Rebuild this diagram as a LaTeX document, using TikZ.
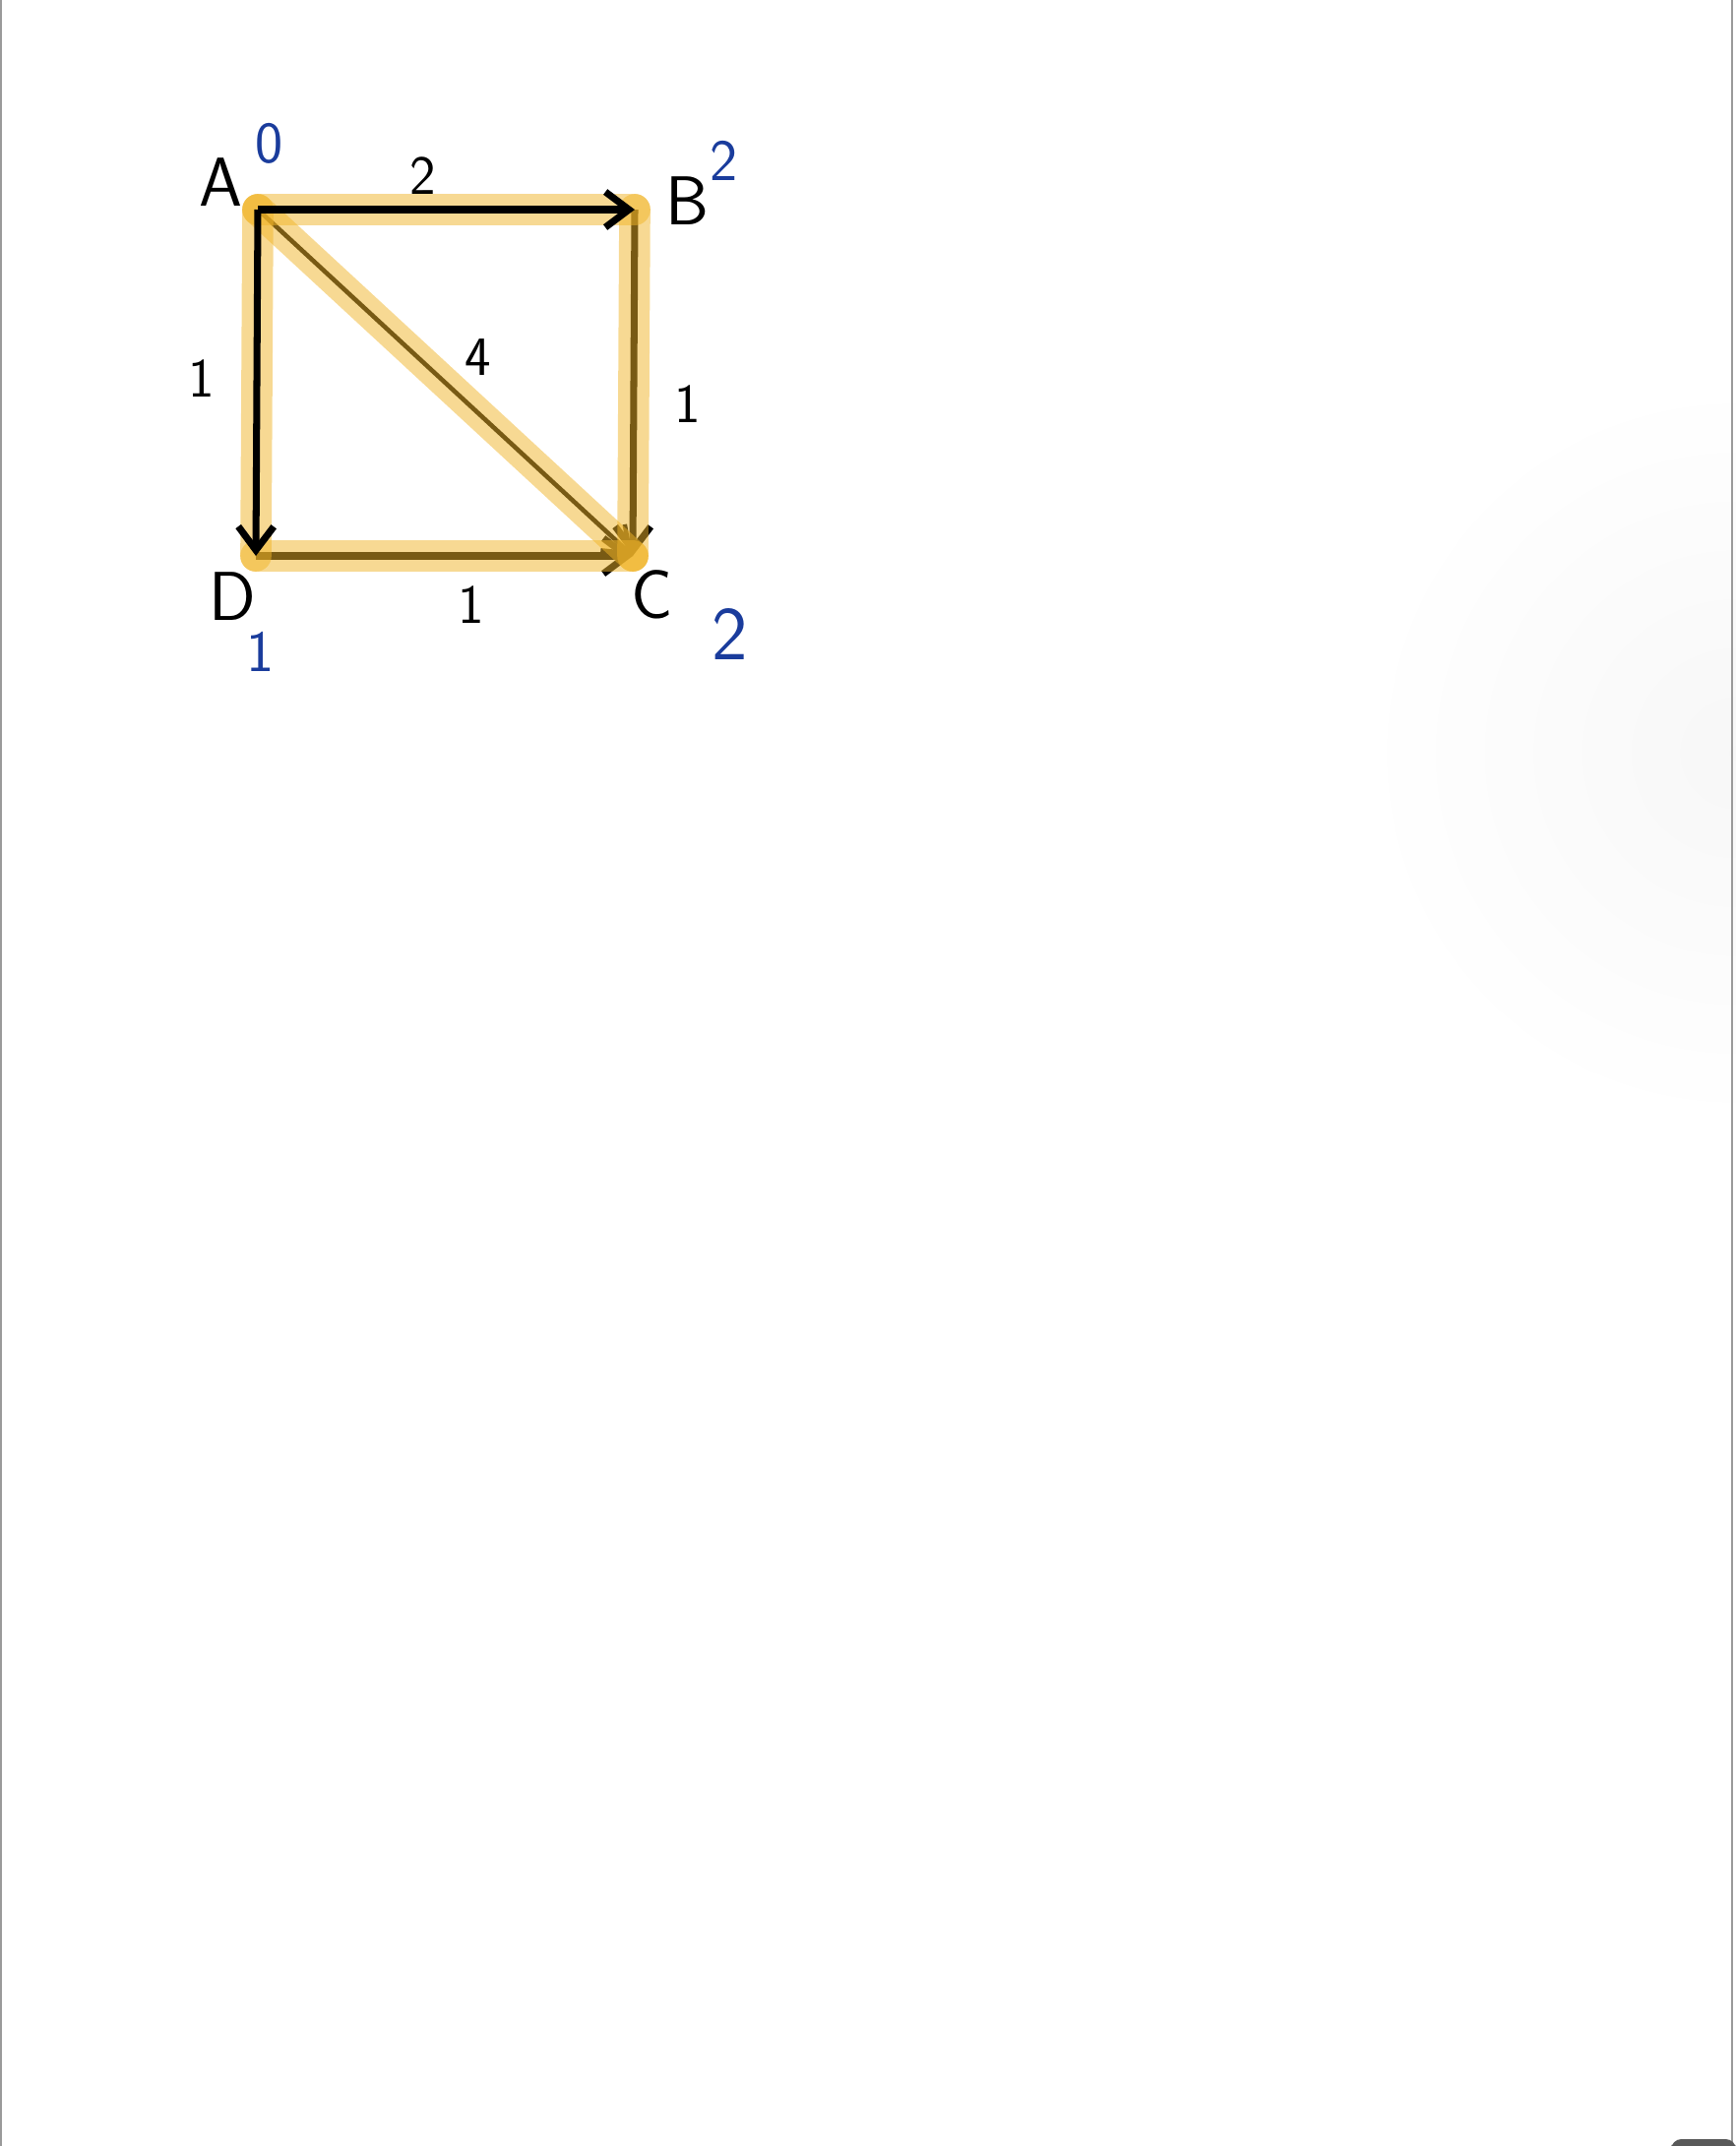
\documentclass[tikz,border=0pt]{standalone}
\usepackage{tikz}
\usetikzlibrary{arrows.meta, positioning, calc}
\definecolor{inkblue}{HTML}{1A3C9C}
\definecolor{marker}{HTML}{F0B428}
\definecolor{edgegrey}{HTML}{9A9A9A}

\begin{document}
\begin{tikzpicture}[x=0.01cm, y=-0.01cm, font=\sffamily,
    vlabel/.style={font=\fontsize{20}{22}\sffamily, inner sep=1pt},
    wlabel/.style={font=\fontsize{16}{18}\sffamily, inner sep=1pt},
    dist/.style={font=\fontsize{17}{19}\sffamily, text=inkblue, inner sep=1pt},
    edge/.style={line width=2pt, -{Straight Barb[length=2.4mm, width=3.6mm]}},
    thin edge/.style={line width=1.3pt, -{Straight Barb[length=2.4mm, width=3.6mm]}},
    hilite/.style={line width=9pt, draw=marker, draw opacity=0.5, line cap=round}]
  \useasboundingbox (0,0) rectangle (1764,2181);
  % page edges
  \shade[inner color=black!3, outer color=white] (1764,765) circle (380);
  \draw[edgegrey, line width=0.6pt] (1,0) -- (1,2181);
  \draw[edgegrey, line width=0.6pt] (1760,0) -- (1760,2181);
  \fill[black!65, rounded corners=3pt] (1698,2174) rectangle (1764,2190);
  % vertices
  \coordinate (A) at (262,213);
  \coordinate (B) at (645,213);
  \coordinate (C) at (643,565);
  \coordinate (D) at (260,565);
  % edges under the marker
  \draw[edge] (B) -- (C);
  \draw[edge] (D) -- (C);
  \draw[thin edge] (A) -- (C);
  % marker strokes
  \draw[hilite] (A) -- (B);
  \draw[hilite] (A) -- (D);
  \draw[hilite] (B) -- (C);
  \draw[hilite] (D) -- (C);
  \draw[hilite] (A) -- (C);
  % edges over the marker
  \draw[edge] (A) -- (B);
  \draw[edge] (A) -- (D);
  % names
  \node[vlabel] (nA) at (224,185) {A};
  \node[vlabel] (nB) at (699,204) {B};
  \node[vlabel] (nC) at (663,604) {C};
  \node[vlabel] (nD) at (236,606) {D};
  % weights
  \node[wlabel] (wAB) at (430,179) {2};
  \node[wlabel] (wAD) at (205,385) {1};
  \node[wlabel] (wAC) at (486,363) {4};
  \node[wlabel] (wBC) at (699,411) {1};
  \node[wlabel] (wDC) at (479,615) {1};
  % distances
  \node[dist] (dA) at (274,146) {0};
  \node[dist] (dB) at (736,163) {2};
  \node[dist, font=\fontsize{22}{24}\sffamily] (dC) at (742,644) {2};
  \node[dist] (dD) at (265,662) {1};
\end{tikzpicture}
\end{document}
